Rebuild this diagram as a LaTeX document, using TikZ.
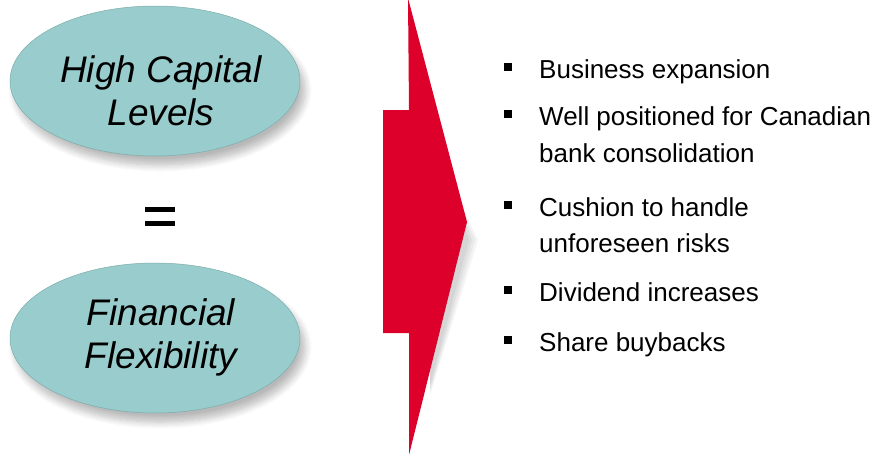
\documentclass[tikz,border=0pt]{standalone}
\usepackage{fontspec}
\setmainfont{Liberation Sans}
\usetikzlibrary{shapes.geometric,shadows.blur}
\definecolor{tealfill}{RGB}{153,204,204}
\definecolor{tealedge}{RGB}{125,172,172}
\definecolor{arrowred}{RGB}{220,0,42}
\tikzset{
  bubble/.style={ellipse,fill=tealfill,draw=tealedge,line width=0.5pt,
    minimum width=290pt,minimum height=150pt,inner sep=0pt,
    blur shadow={shadow xshift=5pt,shadow yshift=-9pt,shadow blur radius=7pt,
      shadow blur steps=10,shadow opacity=28}},
  bubbletext/.style={font=\fontsize{37}{43}\selectfont\itshape,align=center,text=black},
  item/.style={anchor=base west,font=\fontsize{26}{30}\selectfont,text=black,inner sep=0pt},
  bulletmark/.style={fill=black,minimum size=8pt,inner sep=0pt}
}
\begin{document}
\begin{tikzpicture}[x=1pt,y=-1pt]
\useasboundingbox (0,0) rectangle (883,453);
% capital bubbles
\node[bubble] (cap) at (155,81) {};
\node[bubble] (flex) at (155,338) {};
\node[bubbletext,anchor=base] (capA) at (161,82) {High Capital};
\node[bubbletext,anchor=base] (capB) at (161,125) {Levels};
\node[bubbletext,anchor=base] (flexA) at (161,325) {Financial};
\node[bubbletext,anchor=base] (flexB) at (161,368) {Flexibility};
% equals sign
\fill[black] (145,207) rectangle (175,212);
\fill[black] (145,221) rectangle (175,226);
% big arrow with soft shadow
\begin{scope}
\clip (0,0) rectangle (883,453);
\foreach \s in {0,3,6,9}
  \fill[black,opacity=0.045] (418+\s,115) -- (478-\s,240) -- (430,395-\s) -- (430,333) -- (404,333) -- (404,130) -- cycle;
\fill[arrowred] (408,-2) -- (467,222) -- (409,455) -- (409,333) -- (383,333) -- (383,110) -- (409,110) -- cycle;
\end{scope}
% outcomes list
\foreach \n/\y in {1/67,2/114,3/205,4/290,5/340}
  \node[bulletmark] (b\n) at (508,\y) {};
\node[item] (t1) at (539,78) {Business expansion};
\node[item] (t2) at (539,125) {Well positioned for Canadian};
\node[item] (t2b) at (539,162) {bank consolidation};
\node[item] (t3) at (539,216) {Cushion to handle};
\node[item] (t3b) at (539,252) {unforeseen risks};
\node[item] (t4) at (539,301) {Dividend increases};
\node[item] (t5) at (539,351) {Share buybacks};
\end{tikzpicture}
\end{document}
